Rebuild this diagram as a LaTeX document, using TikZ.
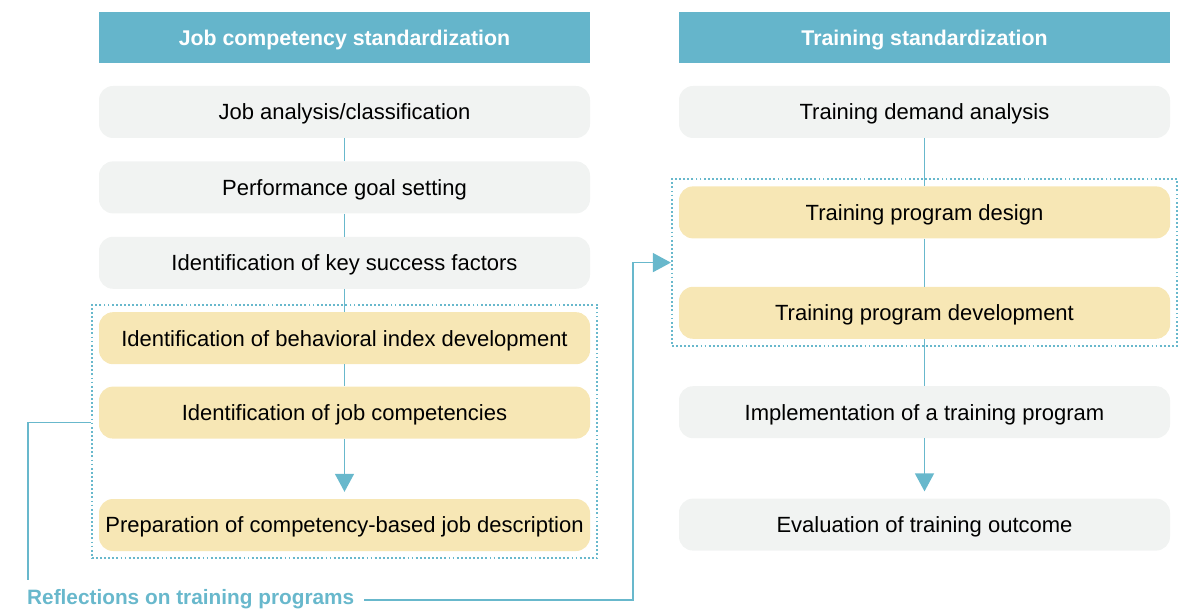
\documentclass[tikz,border=0pt]{standalone}
\usepackage{fontspec}
\setmainfont{Liberation Sans}
\usetikzlibrary{arrows.meta, positioning, calc, fit}
\definecolor{headblue}{HTML}{65B5CB}
\definecolor{lineblue}{HTML}{68B8CC}
\definecolor{boxgrey}{HTML}{F1F3F2}
\definecolor{boxyellow}{HTML}{F7E7B5}
\tikzstyle{header} = [rectangle, minimum width=491pt, minimum height=51pt, inner sep=0pt, text height=15.2pt, text depth=0pt, text centered, fill=headblue, text=white, font=\fontsize{21.3}{25}\selectfont\bfseries]
\tikzstyle{stage} = [rectangle, rounded corners=14pt, minimum width=491pt, minimum height=52pt, inner sep=0pt, text height=15.7pt, text depth=0pt, text centered, fill=boxgrey, font=\fontsize{22}{26}\selectfont]
\tikzstyle{keystage} = [stage, fill=boxyellow]
\tikzstyle{group} = [rectangle, draw=lineblue, line width=1.8pt, dash pattern=on 1.8pt off 2.3pt, inner sep=7pt]
\tikzstyle{link} = [lineblue, line width=1.5pt]
\tikzstyle{arrow} = [link, -{Triangle[width=19pt,length=18pt]}]

\begin{document}
\begin{tikzpicture}[x=1pt, y=1pt]
    \useasboundingbox (0,0) rectangle (1186,-609);
    % left column
    \node (jobhead) [header] at (344.5,-37.5) {Job competency standardization};
    \node (analysis) [stage] at (344.5,-112) {Job analysis/classification};
    \node (goal) [stage, below=23pt of analysis] {Performance goal setting};
    \node (factors) [stage, below=23pt of goal] {Identification of key success factors};
    \node (behav) [keystage, below=23pt of factors] {Identification of behavioral index development};
    \node (comp) [keystage, below=22pt of behav] {Identification of job competencies};
    \node (prep) [keystage, below=60pt of comp] {Preparation of competency-based job description};
    \node (leftgrp) [group, fit=(behav) (prep)] {};

    % right column
    \node (trainhead) [header] at (924.5,-38) {Training standardization};
    \node (demand) [stage] at (924.5,-112) {Training demand analysis};
    \node (design) [keystage, below=48pt of demand] {Training program design};
    \node (develop) [keystage, below=48pt of design] {Training program development};
    \node (implement) [stage, below=47pt of develop] {Implementation of a training program};
    \node (evaluate) [stage, below=60pt of implement] {Evaluation of training outcome};
    \node (rightgrp) [group, fit=(design) (develop)] {};

    \node (refl) [anchor=base west, inner sep=0pt, text=lineblue, font=\fontsize{20.8}{25}\selectfont\bfseries] at (27,-604) {Reflections on training programs};

    \draw [link] (analysis) -- (goal);
    \draw [link] (goal) -- (factors);
    \draw [link] (factors) -- (behav);
    \draw [link] (behav) -- (comp);
    \draw [arrow, shorten >=7pt] (comp) -- (prep);

    \draw [link] (demand) -- (design);
    \draw [link] (design) -- (develop);
    \draw [link] (develop) -- (implement);
    \draw [arrow, shorten >=7pt] (implement) -- (evaluate);

    % feedback loop
    \coordinate (fbstart) at ([yshift=-10pt]leftgrp.west |- comp);
    \coordinate (fbdown) at (28,-580);
    \coordinate (fbturn) at (633,-600);
    \draw [link] (fbstart) -| (fbdown);
    \draw [arrow] ([xshift=10pt]refl.east |- fbturn) -- (fbturn) |- (rightgrp.west);
\end{tikzpicture}
\end{document}
